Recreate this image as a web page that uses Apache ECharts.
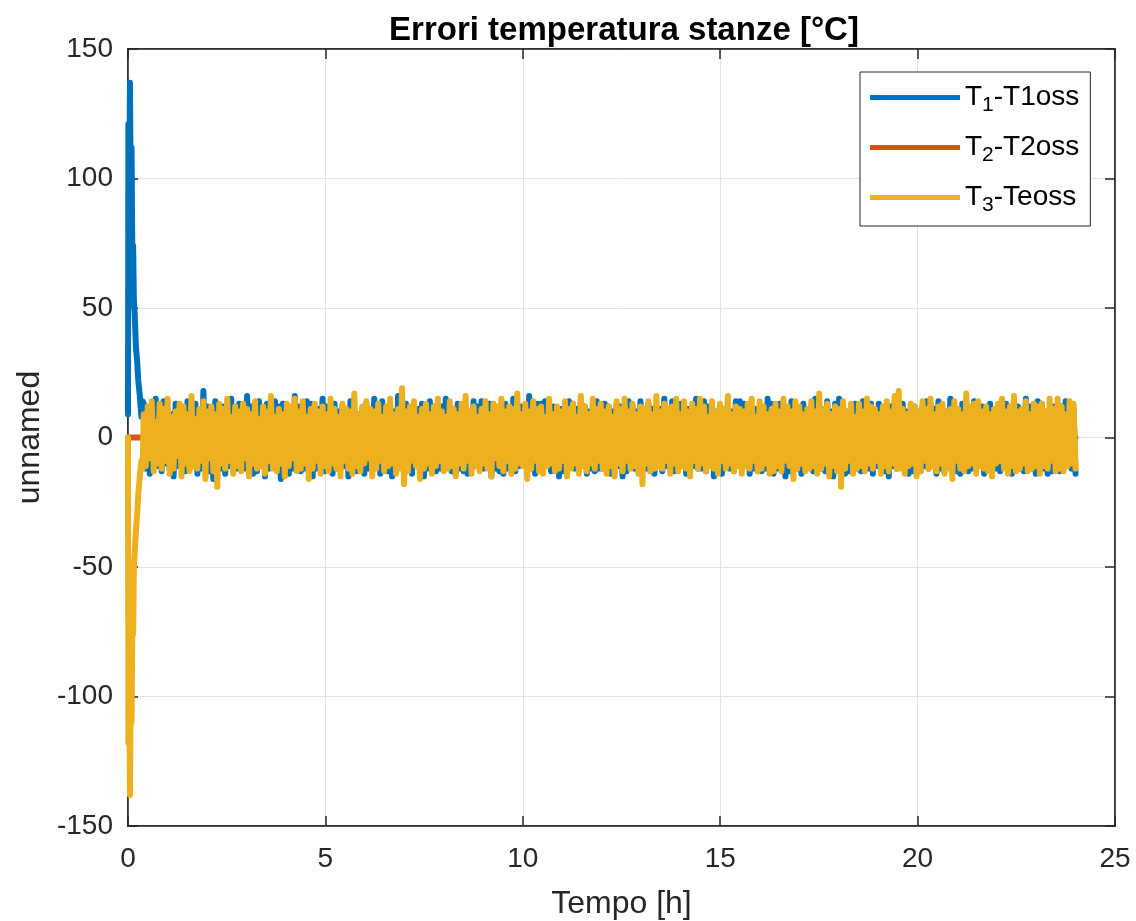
<!DOCTYPE html>
<html>
<head>
<meta charset="utf-8">
<script src="https://cdn.jsdelivr.net/npm/echarts@6/dist/echarts.min.js"></script>
<style>html,body{margin:0;padding:0;background:#fff;}#c{width:1136px;height:921px;}</style>
</head>
<body>
<div id="c"></div>
<script>
const titleText = 'Errori temperatura stanze [°C]';
const xName = 'Tempo [h]';
const yName = 'unnamed';
const seriesNames = ['T1-T1oss', 'T2-T2oss', 'T3-Teoss'];
const xTicks = [0, 5, 10, 15, 20, 25];
const yTicks = [-150, -100, -50, 0, 50, 100, 150];

// start-up transient (time in h, value in °C)
const transientTime = [0, 0.01, 0.03, 0.05, 0.07, 0.09, 0.11, 0.13, 0.15, 0.17, 0.2, 0.23, 0.26, 0.3, 0.34, 0.37];
const blueTransient = [9, 121, 96, 137, 88, 112, 70, 74, 52, 48, 35, 30, 22, 16, 8, 14];
const yellowTransient = [0, -118, -90, -138, -95, -110, -72, -76, -50, -45, -36, -30, -22, -15, -9, -12];

// orange error (stays at zero)
const orangeTime = [0, 0.1, 0.2, 0.3, 0.4, 6, 12, 18, 24];
const orangeValues = [0, 0, 0, 0, 0, 0, 0, 0, 0];

// steady-state noise, sampled evenly from noiseStart to noiseEnd
const noiseStart = 0.4;
const noiseEnd = 24;
const blueNoise = [
13,-12,10,-14,12,-9,15,-11,8,-13,
14,-10,11,-12,9,-15,13,-11,12,-10,
10,-13,14,-12,11,-9,13,-14,10,-12,
18,-11,12,-13,9,-16,14,-10,11,-12,
12,-14,10,-11,15,-13,9,-12,13,-10,
11,-12,16,-10,12,-14,10,-13,14,-11,
9,-15,13,-12,11,-10,14,-11,12,-16,
13,-10,11,-14,10,-12,16,-9,12,-13,
10,-12,14,-11,13,-15,9,-12,11,-10,
15,-13,12,-10,11,-14,13,-12,10,-11,
12,-11,10,-15,14,-12,11,-13,9,-12,
11,-14,13,-12,10,-11,15,-10,12,-14,
14,-10,11,-13,12,-15,10,-12,16,-11,
10,-12,13,-11,9,-14,12,-10,11,-13,
13,-15,10,-12,14,-11,12,-13,10,-12,
12,-11,15,-10,11,-13,9,-14,13,-12,
11,-13,12,-14,10,-12,14,-11,12,-10,
14,-12,10,-11,13,-15,11,-12,10,-13,
10,-14,13,-12,11,-10,15,-13,12,-11,
12,-10,11,-13,16,-12,10,-14,13,-12,
13,-12,14,-10,11,-13,12,-11,10,-15,
11,-13,10,-12,14,-11,13,-12,11,-10,
15,-11,12,-14,10,-12,11,-13,14,-12,
10,-12,13,-11,12,-14,10,-12,13,-11,
12,-15,11,-13,14,-10,12,-12,10,-13,
14,-11,10,-12,13,-13,11,-14,12,-10,
11,-13,15,-11,10,-12,14,-13,11,-12,
13,-10,12,-14,11,-13,10,-11,15,-12,
10,-12,14,-13,12,-11,13,-15,10,-12,
12,-14,11,-10,13,-12,10,-13,14,-11,
14,-12,13,-11,10,-14,12,-12,11,-13,
11,-13,10,-12,15,-11,13,-14,10,-12,
13,-11,12,-15,11,-13,14,-10,12,-12,
10,-14,13,-12,10,-11,12,-13,15,-11,
12,-12,11,-13,14,-12,10,-15,13,-10,
15,-11,12,-14,10,-13,11,-12,13,-12,
11,-13,14,-10,12,-12,13,-14,10,-11,
13,-12,10,-13,11,-15,12,-11,14,-12,
12,-10,13,-12,10,-14,11,-13,12,-12,
10,-13,12,-11,14,-12,13,-10,11,-14,
14,-12,11,-13,10,-11,15,-12,12,-13,
11,-14,13,-10,12,-13,10,-12,14,-11,
13,-11,12,-14,11,-12,13,-13,10,-12,
10,-13,14,-11,13,-12,11,-14,12,-10,
12,-12,10,-13,15,-11,12,-12,13,-14,
14,-11,13,-12,10,-14,11,-13,12,-11,
11,-13,12,-12,14,-10,13,-12,11,-14
];
const yellowNoise = [
9,-11,12,-8,14,-13,6,-10,13,-12,
11,-9,15,-14,8,-12,10,-7,13,-15,
12,-10,9,-13,16,-11,7,-12,11,-9,
14,-16,10,-8,12,-13,9,-19,13,-10,
11,-12,15,-9,8,-14,12,-11,10,-13,
13,-8,11,-15,9,-10,14,-12,7,-11,
12,-14,10,-9,16,-12,8,-13,11,-10,
9,-15,13,-11,12,-8,15,-13,10,-12,
14,-10,8,-16,11,-12,13,-9,10,-14,
12,-11,9,-13,15,-10,11,-12,8,-15,
13,-9,11,-12,10,-14,17,-11,9,-13,
12,-10,14,-8,11,-15,10,-12,13,-9,
8,-13,12,-11,15,-10,9,-14,11,-12,
19,-18,10,-13,12,-9,14,-11,8,-16,
11,-12,13,-10,9,-14,12,-11,15,-9,
10,-13,8,-12,14,-11,11,-15,9,-10,
13,-12,16,-9,10,-14,12,-11,8,-13,
11,-10,14,-12,9,-15,13,-8,12,-11,
15,-13,10,-9,12,-14,11,-12,17,-10,
9,-11,13,-16,10,-12,14,-9,11,-13,
12,-14,8,-11,15,-10,9,-13,12,-12,
10,-9,14,-15,11,-12,13,-10,8,-14,
16,-11,12,-13,9,-10,15,-12,11,-9,
13,-12,10,-14,12,-11,8,-15,14,-10,
11,-13,15,-9,10,-12,13,-11,9,-14,
12,-18,11,-10,14,-13,9,-12,16,-11,
10,-12,13,-9,11,-14,12,-10,15,-13,
9,-11,14,-12,10,-15,13,-9,11,-12,
15,-10,12,-13,8,-11,14,-12,10,-14,
13,-9,11,-12,16,-10,9,-13,12,-11,
11,-14,10,-11,13,-12,15,-9,8,-13,
14,-12,12,-10,9,-14,11,-13,13,-11,
10,-13,15,-9,12,-11,10,-16,14,-12,
12,-10,9,-13,11,-12,14,-11,10,-14,
17,-12,11,-10,13,-15,9,-11,12,-13,
11,-19,14,-12,10,-9,13,-14,8,-12,
13,-11,10,-13,15,-10,12,-12,11,-9,
9,-14,12,-11,14,-13,10,-10,16,-12,
18,-12,11,-14,9,-11,13,-10,12,-15,
10,-13,14,-9,11,-12,15,-11,9,-13,
12,-10,13,-14,10,-12,11,-16,14,-9,
11,-12,9,-13,17,-11,12,-10,13,-14,
14,-11,10,-12,12,-13,9,-15,11,-10,
13,-9,15,-12,10,-14,12,-11,16,-13,
10,-12,11,-10,14,-13,9,-12,13,-11,
12,-14,13,-11,10,-12,15,-9,11,-13,
15,-12,12,-13,9,-11,14,-10,13,-12
];

function buildSeries(tTimes, tVals, noise) {
  const out = [];
  for (let i = 0; i < tTimes.length; i++) out.push([tTimes[i], tVals[i]]);
  const step = (noiseEnd - noiseStart) / (noise.length - 1);
  for (let i = 0; i < noise.length; i++) out.push([noiseStart + i * step, noise[i]]);
  return out;
}
const blueData = buildSeries(transientTime, blueTransient, blueNoise);
const yellowData = buildSeries(transientTime, yellowTransient, yellowNoise);
const orangeData = orangeTime.map((t, i) => [t, orangeValues[i]]);

const FONT = '"Liberation Sans", Arial, Helvetica, sans-serif';
const AX = '#262626';
const colors = ['#0072BD', '#D95319', '#EDB120'];

const chart = echarts.init(document.getElementById('c'), null, {renderer: 'canvas'});
const baseX = {
  type: 'value', min: xTicks[0], max: xTicks[xTicks.length - 1], interval: 5
};
const baseY = {
  type: 'value', min: yTicks[0], max: yTicks[yTicks.length - 1], interval: 50
};
const axLine = {show: true, onZero: false, lineStyle: {color: AX, width: 1.5}};
const axTick = {show: true, inside: true, length: 10, lineStyle: {color: AX, width: 1.5}};
const lineFor = (name, data, color, z) => ({
  name, type: 'line', data, showSymbol: false, symbol: 'none', z,
  animation: false,
  lineStyle: {color, width: 6, cap: 'round', join: 'round'},
  itemStyle: {color}
});
function legendLabel(name) {
  const m = name.match(/^T(\d)(.*)$/);
  return '{a|T}{s|' + m[1] + '}{a|' + m[2] + '}';
}
chart.setOption({
  animation: false,
  backgroundColor: '#fff',
  color: colors,
  title: {
    text: titleText, left: 619, top: 9, textAlign: 'center',
    textStyle: {fontFamily: FONT, fontSize: 33, fontWeight: 'bold', color: '#000'}
  },
  grid: {left: 128, right: 21, top: 49, bottom: 95, containLabel: false,
    outerBoundsMode: 'none',
    show: true, borderColor: AX, borderWidth: 1.5, backgroundColor: 'transparent'},
  legend: {
    orient: 'vertical', left: 860, top: 72,
    data: seriesNames,
    icon: 'rect', itemWidth: 90, itemHeight: 5, itemGap: 13,
    padding: [7, 11, 10, 10],
    backgroundColor: '#fff', borderColor: AX, borderWidth: 1,
    formatter: legendLabel,
    textStyle: {
      fontFamily: FONT, color: '#000',
      rich: {
        a: {fontFamily: FONT, fontSize: 28, color: '#000', lineHeight: 30},
        s: {fontFamily: FONT, fontSize: 21, color: '#000', lineHeight: 14, padding: [16, 0, 0, 0]}
      }
    }
  },
  xAxis: [
    Object.assign({}, baseX, {
      position: 'bottom',
      name: xName, nameLocation: 'middle', nameGap: 62,
      nameTextStyle: {fontFamily: FONT, fontSize: 32, color: AX},
      axisLine: axLine, axisTick: axTick,
      axisLabel: {fontFamily: FONT, fontSize: 28, color: AX, margin: 19},
      splitLine: {show: true, lineStyle: {color: '#e3e3e3', width: 1}}
    }),
    Object.assign({}, baseX, {
      position: 'top',
      axisLine: axLine, axisTick: axTick,
      axisLabel: {show: false}, splitLine: {show: false}
    })
  ],
  yAxis: [
    Object.assign({}, baseY, {
      position: 'left',
      name: yName, nameLocation: 'middle', nameGap: 80, nameRotate: 90,
      nameTextStyle: {fontFamily: FONT, fontSize: 32, color: AX},
      axisLine: axLine, axisTick: axTick,
      axisLabel: {fontFamily: FONT, fontSize: 28, color: AX, margin: 15},
      splitLine: {show: true, lineStyle: {color: '#e3e3e3', width: 1}}
    }),
    Object.assign({}, baseY, {
      position: 'right',
      axisLine: axLine, axisTick: axTick,
      axisLabel: {show: false}, splitLine: {show: false}
    })
  ],
  series: [
    lineFor(seriesNames[0], blueData, colors[0], 2),
    lineFor(seriesNames[1], orangeData, colors[1], 3),
    lineFor(seriesNames[2], yellowData, colors[2], 4)
  ]
});
</script>
</body>
</html>
